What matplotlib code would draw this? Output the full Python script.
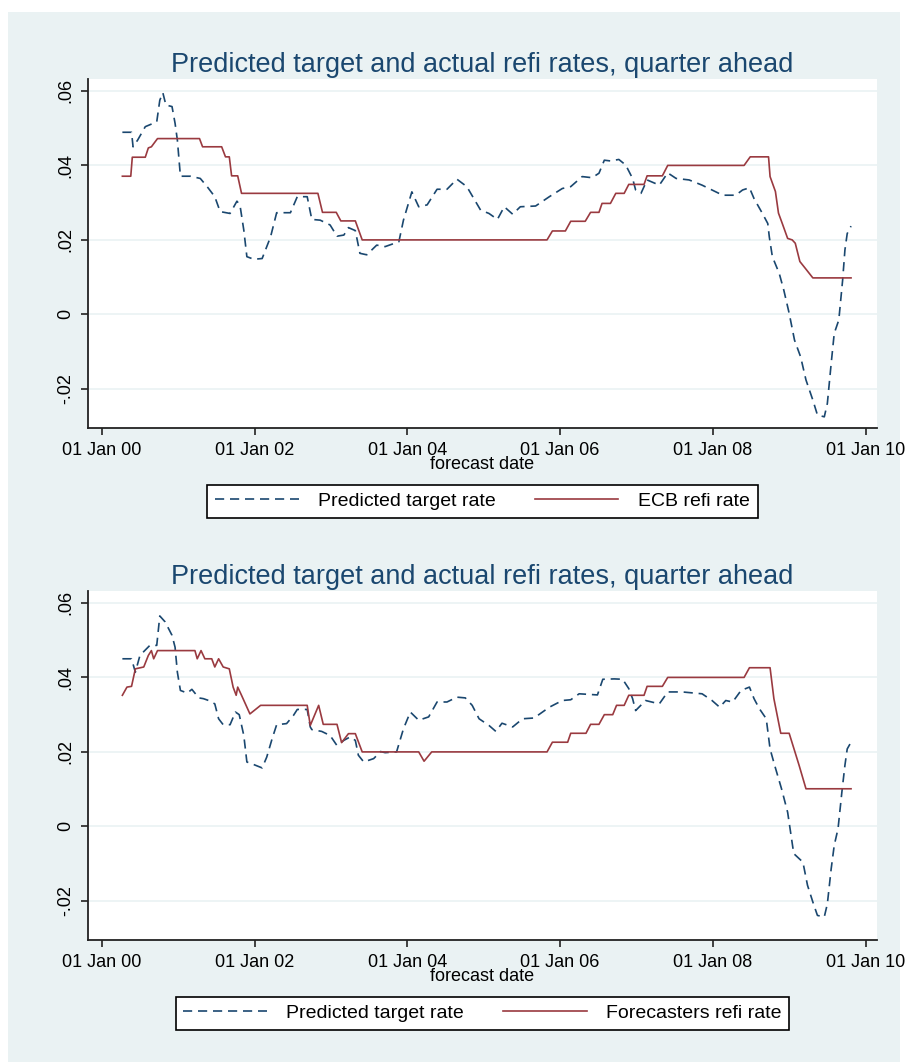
import matplotlib
matplotlib.use('Agg')
import matplotlib.pyplot as plt
from matplotlib.patches import Rectangle

plt.rcParams['font.family'] = ['Liberation Sans', 'DejaVu Sans']

# forecast dates as decimal years
ecb_t = [2000.27, 2000.38, 2000.40, 2000.57, 2000.61, 2000.65, 2000.73, 2001.28, 2001.32, 2001.57,
         2001.62, 2001.67, 2001.70, 2001.78, 2001.83, 2002.83, 2002.89, 2003.07, 2003.13, 2003.32,
         2003.41, 2005.83, 2005.90, 2006.07, 2006.14, 2006.33, 2006.40, 2006.51, 2006.55, 2006.66,
         2006.73, 2006.84, 2006.90, 2007.10, 2007.14, 2007.34, 2007.41, 2008.41, 2008.49, 2008.73,
         2008.75, 2008.82, 2008.86, 2008.91, 2008.98, 2009.04, 2009.08, 2009.14, 2009.21, 2009.31,
         2009.81]
ecb_v = [.0371, .0371, .0422, .0422, .0447, .0450, .0472, .0472, .0450, .0450,
         .0423, .0423, .0372, .0372, .0325, .0325, .0274, .0274, .0251, .0251,
         .0200, .0200, .0224, .0224, .0250, .0250, .0274, .0274, .0298, .0298,
         .0325, .0325, .0349, .0349, .0372, .0372, .0400, .0400, .0423, .0423,
         .0370, .0330, .0272, .0244, .0204, .0200, .0191, .0142, .0124, .0098,
         .0098]

pred1_t = [2000.27, 2000.39, 2000.41, 2000.47, 2000.57, 2000.72, 2000.76, 2000.80, 2000.84, 2000.92,
           2000.96, 2000.99, 2001.03, 2001.16, 2001.29, 2001.38, 2001.48, 2001.55, 2001.68, 2001.77,
           2001.81, 2001.86, 2001.90, 2001.99, 2002.10, 2002.21, 2002.29, 2002.47, 2002.56, 2002.69,
           2002.75, 2002.86, 2002.99, 2003.08, 2003.17, 2003.23, 2003.32, 2003.38, 2003.47, 2003.60,
           2003.71, 2003.89, 2003.95, 2004.06, 2004.15, 2004.26, 2004.39, 2004.52, 2004.65, 2004.78,
           2004.96, 2005.07, 2005.18, 2005.27, 2005.38, 2005.48, 2005.68, 2005.86, 2006.03, 2006.14,
           2006.29, 2006.42, 2006.51, 2006.58, 2006.66, 2006.77, 2006.86, 2006.95, 2006.99, 2007.06,
           2007.14, 2007.30, 2007.41, 2007.52, 2007.69, 2007.86, 2008.04, 2008.13, 2008.30, 2008.39,
           2008.48, 2008.54, 2008.65, 2008.72, 2008.74, 2008.78, 2008.87, 2008.93, 2009.00, 2009.07,
           2009.15, 2009.22, 2009.31, 2009.37, 2009.46, 2009.50, 2009.55, 2009.59, 2009.65, 2009.70,
           2009.73, 2009.76, 2009.81]
pred1_v = [.0489, .0489, .0450, .0468, .0504, .0517, .0575, .0595, .0562, .0558,
           .0513, .0468, .0371, .0371, .0365, .0343, .0316, .0276, .0271, .0304,
           .0293, .0226, .0155, .0148, .0150, .0208, .0273, .0273, .0316, .0316,
           .0255, .0253, .0240, .0210, .0213, .0233, .0225, .0164, .0160, .0186,
           .0182, .0195, .0253, .0329, .0289, .0294, .0336, .0336, .0363, .0343,
           .0280, .0271, .0255, .0289, .0269, .0289, .0291, .0316, .0338, .0343,
           .0370, .0367, .0379, .0414, .0412, .0416, .0401, .0365, .0334, .0325,
           .0361, .0347, .0380, .0365, .0361, .0347, .0329, .0320, .0320, .0334,
           .0340, .0311, .0271, .0244, .0208, .0155, .0110, .0065, .0003, -.0069,
           -.0114, -.0176, -.0230, -.0270, -.0275, -.0239, -.0132, -.0051, -.0015, .0092,
           .0173, .0217, .0237]

fcst_t = [2000.27, 2000.33, 2000.39, 2000.44, 2000.55, 2000.61, 2000.65, 2000.68, 2000.73, 2001.22,
          2001.25, 2001.30, 2001.35, 2001.44, 2001.48, 2001.53, 2001.59, 2001.67, 2001.72, 2001.76,
          2001.78, 2001.83, 2001.94, 2002.08, 2002.69, 2002.73, 2002.84, 2002.90, 2003.08, 2003.14,
          2003.23, 2003.32, 2003.41, 2004.15, 2004.22, 2004.32, 2005.83, 2005.90, 2006.10, 2006.14,
          2006.34, 2006.40, 2006.51, 2006.58, 2006.69, 2006.74, 2006.84, 2006.90, 2007.10, 2007.14,
          2007.34, 2007.41, 2008.41, 2008.48, 2008.75, 2008.80, 2008.89, 2009.00, 2009.13, 2009.22,
          2009.81]
fcst_v = [.0352, .0374, .0376, .0423, .0428, .0459, .0472, .0450, .0472, .0472,
          .0450, .0472, .0450, .0450, .0428, .0450, .0428, .0423, .0374, .0352,
          .0374, .0352, .0302, .0325, .0325, .0271, .0325, .0274, .0274, .0225,
          .0249, .0249, .0200, .0200, .0175, .0200, .0200, .0226, .0226, .0250,
          .0250, .0274, .0274, .0300, .0300, .0325, .0325, .0352, .0352, .0376,
          .0376, .0400, .0400, .0426, .0426, .0343, .0250, .0250, .0164, .0101,
          .0101]

pred2_t = [2000.27, 2000.39, 2000.44, 2000.50, 2000.63, 2000.72, 2000.76, 2000.83, 2000.92, 2000.96,
           2000.99, 2001.03, 2001.12, 2001.18, 2001.27, 2001.33, 2001.40, 2001.48, 2001.53, 2001.59,
           2001.68, 2001.75, 2001.80, 2001.86, 2001.90, 2001.99, 2002.10, 2002.16, 2002.23, 2002.29,
           2002.42, 2002.51, 2002.56, 2002.69, 2002.73, 2002.75, 2002.88, 2002.99, 2003.08, 2003.17,
           2003.25, 2003.32, 2003.36, 2003.43, 2003.56, 2003.65, 2003.71, 2003.86, 2003.95, 2004.04,
           2004.15, 2004.28, 2004.39, 2004.52, 2004.65, 2004.76, 2004.85, 2004.94, 2005.07, 2005.16,
           2005.24, 2005.38, 2005.51, 2005.66, 2005.86, 2006.03, 2006.14, 2006.25, 2006.49, 2006.56,
           2006.71, 2006.82, 2006.90, 2006.95, 2006.99, 2007.12, 2007.30, 2007.41, 2007.60, 2007.86,
           2007.99, 2008.09, 2008.17, 2008.26, 2008.37, 2008.48, 2008.54, 2008.61, 2008.70, 2008.75,
           2008.81, 2008.90, 2008.98, 2009.06, 2009.18, 2009.24, 2009.31, 2009.37, 2009.46, 2009.50,
           2009.55, 2009.59, 2009.64, 2009.69, 2009.73, 2009.76, 2009.81]
pred2_v = [.0450, .0450, .0414, .0459, .0486, .0486, .0565, .0549, .0513, .0481,
           .0414, .0365, .0358, .0368, .0345, .0343, .0338, .0329, .0289, .0273,
           .0273, .0307, .0300, .0244, .0173, .0166, .0157, .0186, .0235, .0273,
           .0276, .0298, .0314, .0314, .0267, .0260, .0255, .0244, .0217, .0231,
           .0240, .0231, .0191, .0173, .0182, .0201, .0198, .0200, .0262, .0307,
           .0285, .0294, .0334, .0334, .0347, .0345, .0325, .0289, .0271, .0255,
           .0277, .0267, .0289, .0291, .0320, .0338, .0340, .0356, .0353, .0395,
           .0396, .0395, .0370, .0343, .0311, .0338, .0329, .0361, .0361, .0356,
           .0338, .0320, .0338, .0334, .0365, .0374, .0343, .0316, .0289, .0208,
           .0164, .0101, .0038, -.0073, -.0096, -.0158, -.0203, -.0239, -.0243, -.0208,
           -.0114, -.0051, -.0006, .0092, .0164, .0208, .0226]

title = 'Predicted target and actual refi rates, quarter ahead'
xticks = [2000, 2002, 2004, 2006, 2008, 2010]
xticklabels = ['01 Jan 00', '01 Jan 02', '01 Jan 04', '01 Jan 06', '01 Jan 08', '01 Jan 10']
yticks = [-0.02, 0, 0.02, 0.04, 0.06]
yticklabels = ['-.02', '0', '.02', '.04', '.06']

blue = '#1a476f'
red = '#9a3a40'
bg = '#eaf2f3'

W, H = 906, 1062
fig = plt.figure(figsize=(W / 100, H / 100), dpi=100)
fig.patches.append(Rectangle((8 / W, 0), (900 - 8) / W, 1 - 12 / H, transform=fig.transFigure,
                             facecolor=bg, edgecolor='none', zorder=-10))


def panel(top, t1, v1, t2, v2, lab2):
    ax = fig.add_axes([88 / W, 1 - (top + 349) / H, 789 / W, 349 / H])
    ax.set_facecolor('white')
    ax.plot(t1, v1, color=blue, linestyle=(0, (5.5, 3.5)), linewidth=1.2, label='Predicted target rate')
    ax.plot(t2, v2, color=red, linestyle='solid', linewidth=1.2, label=lab2)
    ax.set_xlim(1999.82, 2010.15)
    ax.set_ylim(-0.0305, 0.0632)
    ax.set_xticks(xticks)
    ax.set_xticklabels(xticklabels, fontsize=13)
    ax.set_yticks(yticks)
    ax.set_yticklabels(yticklabels, fontsize=13, rotation=90, va='center')
    ax.grid(True, axis='y', color=bg, linewidth=1.2)
    ax.set_axisbelow(True)
    for s in ['top', 'right']:
        ax.spines[s].set_visible(False)
    for s in ['left', 'bottom']:
        ax.spines[s].set_linewidth(1.3)
        ax.spines[s].set_color('#222222')
    ax.tick_params(length=5, width=1.2, color='#222222', pad=5)
    ax.set_xlabel('forecast date', fontsize=13, labelpad=-2)
    ax.set_title(title, fontsize=19.5, color=blue, pad=5)
    leg = ax.legend(loc='upper center', bbox_to_anchor=(0.5, -0.163), ncol=2, fontsize=14,
                    frameon=True, fancybox=False, edgecolor='black', framealpha=1,
                    borderaxespad=0, handlelength=4.3, handletextpad=1.0, columnspacing=2.0,
                    borderpad=0.4)
    leg.get_frame().set_linewidth(1.2)
    return ax


panel(79, pred1_t, pred1_v, ecb_t, ecb_v, 'ECB refi rate')
panel(591, pred2_t, pred2_v, fcst_t, fcst_v, 'Forecasters refi rate')

plt.savefig('out.png', dpi=100)
